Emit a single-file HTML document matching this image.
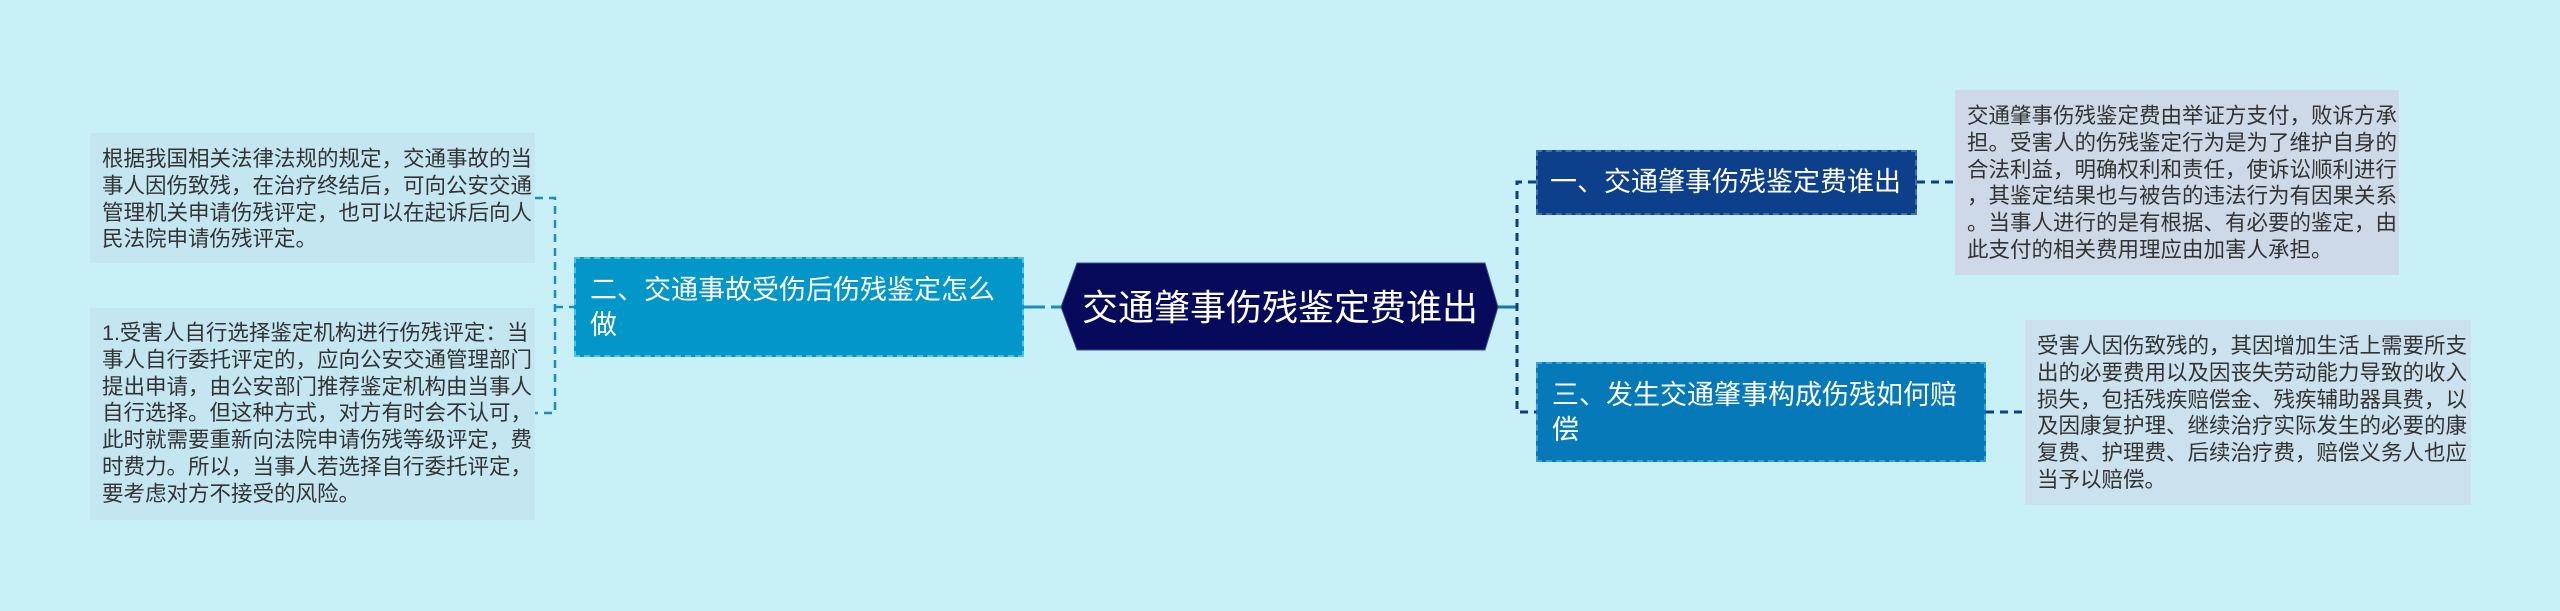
<!DOCTYPE html>
<html><head><meta charset="utf-8">
<style>
html,body{margin:0;padding:0;}
body{width:2560px;height:611px;background:#c9eff7;position:relative;overflow:hidden;font-family:"Liberation Sans","Noto Sans CJK SC",sans-serif;}
.leaf{position:absolute;box-sizing:border-box;color:#333;font-size:21.5px;line-height:26.8px;white-space:nowrap;padding:0 0 0 12px;}
.br{position:absolute;box-sizing:border-box;color:#fff;font-size:27px;line-height:35px;white-space:nowrap;}
</style></head><body>
<svg width="2560" height="611" style="position:absolute;left:0;top:0">
  <g stroke="#1b8fb8" stroke-width="2.5" fill="none" stroke-dasharray="8,6">
    <path d="M535 198 H555 V413 H535"/>
    <path d="M555 307 H574"/>
  </g>
  <path d="M1023 307 H1061" stroke="#1890c0" stroke-width="3" stroke-dasharray="22,6"/>
  <path d="M1498 307 H1517" stroke="#1576aa" stroke-width="3"/>
  <g stroke="#0d3f80" stroke-width="3" fill="none" stroke-dasharray="8,6">
    <path d="M1536 182 H1517 V412 H1536"/>
    <path d="M1917 182 H1956"/>
    <path d="M1986 412 H2025"/>
  </g>
  <polygon points="1061,307 1077,263 1485,263 1498,307 1485,350 1077,350" fill="#070a5a" stroke="#3b4f90" stroke-width="1"/>
  <text x="1280" y="320" fill="#fff" font-size="36" text-anchor="middle" font-family="Liberation Sans, Noto Sans CJK SC, sans-serif">交通肇事伤残鉴定费谁出</text>
</svg>

<div class="br" style="left:574px;top:257px;width:450px;height:100px;background:#0397c9;border:2px dashed #4fc0e4;padding:14px 0 0 14px;">二、交通事故受伤后伤残鉴定怎么<br>做</div>

<div class="leaf" style="left:90px;top:133px;width:445px;height:130px;background:#c3e6f1;padding-top:13px;">根据我国相关法律法规的规定，交通事故的当<br>事人因伤致残，在治疗终结后，可向公安交通<br>管理机关申请伤残评定，也可以在起诉后向人<br>民法院申请伤残评定。</div>

<div class="leaf" style="left:90px;top:308px;width:445px;height:212px;background:#c3e6f1;padding-top:12px;">1.受害人自行选择鉴定机构进行伤残评定：当<br>事人自行委托评定的，应向公安交通管理部门<br>提出申请，由公安部门推荐鉴定机构由当事人<br>自行选择。但这种方式，对方有时会不认可，<br>此时就需要重新向法院申请伤残等级评定，费<br>时费力。所以，当事人若选择自行委托评定，<br>要考虑对方不接受的风险。</div>

<div class="br" style="left:1536px;top:150px;width:381px;height:65px;background:#0d3f8a;border:2px dashed #3d6fb0;padding:13px 0 0 12px;">一、交通肇事伤残鉴定费谁出</div>

<div class="br" style="left:1536px;top:362px;width:450px;height:100px;background:#0679b8;border:2px dashed #3a9fd6;padding:14px 0 0 14px;">三、发生交通肇事构成伤残如何赔<br>偿</div>

<div class="leaf" style="left:1955px;top:90px;width:444px;height:185px;background:#ced9e7;padding-top:13px;">交通肇事伤残鉴定费由举证方支付，败诉方承<br>担。受害人的伤残鉴定行为是为了维护自身的<br>合法利益，明确权利和责任，使诉讼顺利进行<br>，其鉴定结果也与被告的违法行为有因果关系<br>。当事人进行的是有根据、有必要的鉴定，由<br>此支付的相关费用理应由加害人承担。</div>

<div class="leaf" style="left:2025px;top:320px;width:446px;height:185px;background:#cbe1ed;padding-top:13px;">受害人因伤致残的，其因增加生活上需要所支<br>出的必要费用以及因丧失劳动能力导致的收入<br>损失，包括残疾赔偿金、残疾辅助器具费，以<br>及因康复护理、继续治疗实际发生的必要的康<br>复费、护理费、后续治疗费，赔偿义务人也应<br>当予以赔偿。</div>
</body></html>
